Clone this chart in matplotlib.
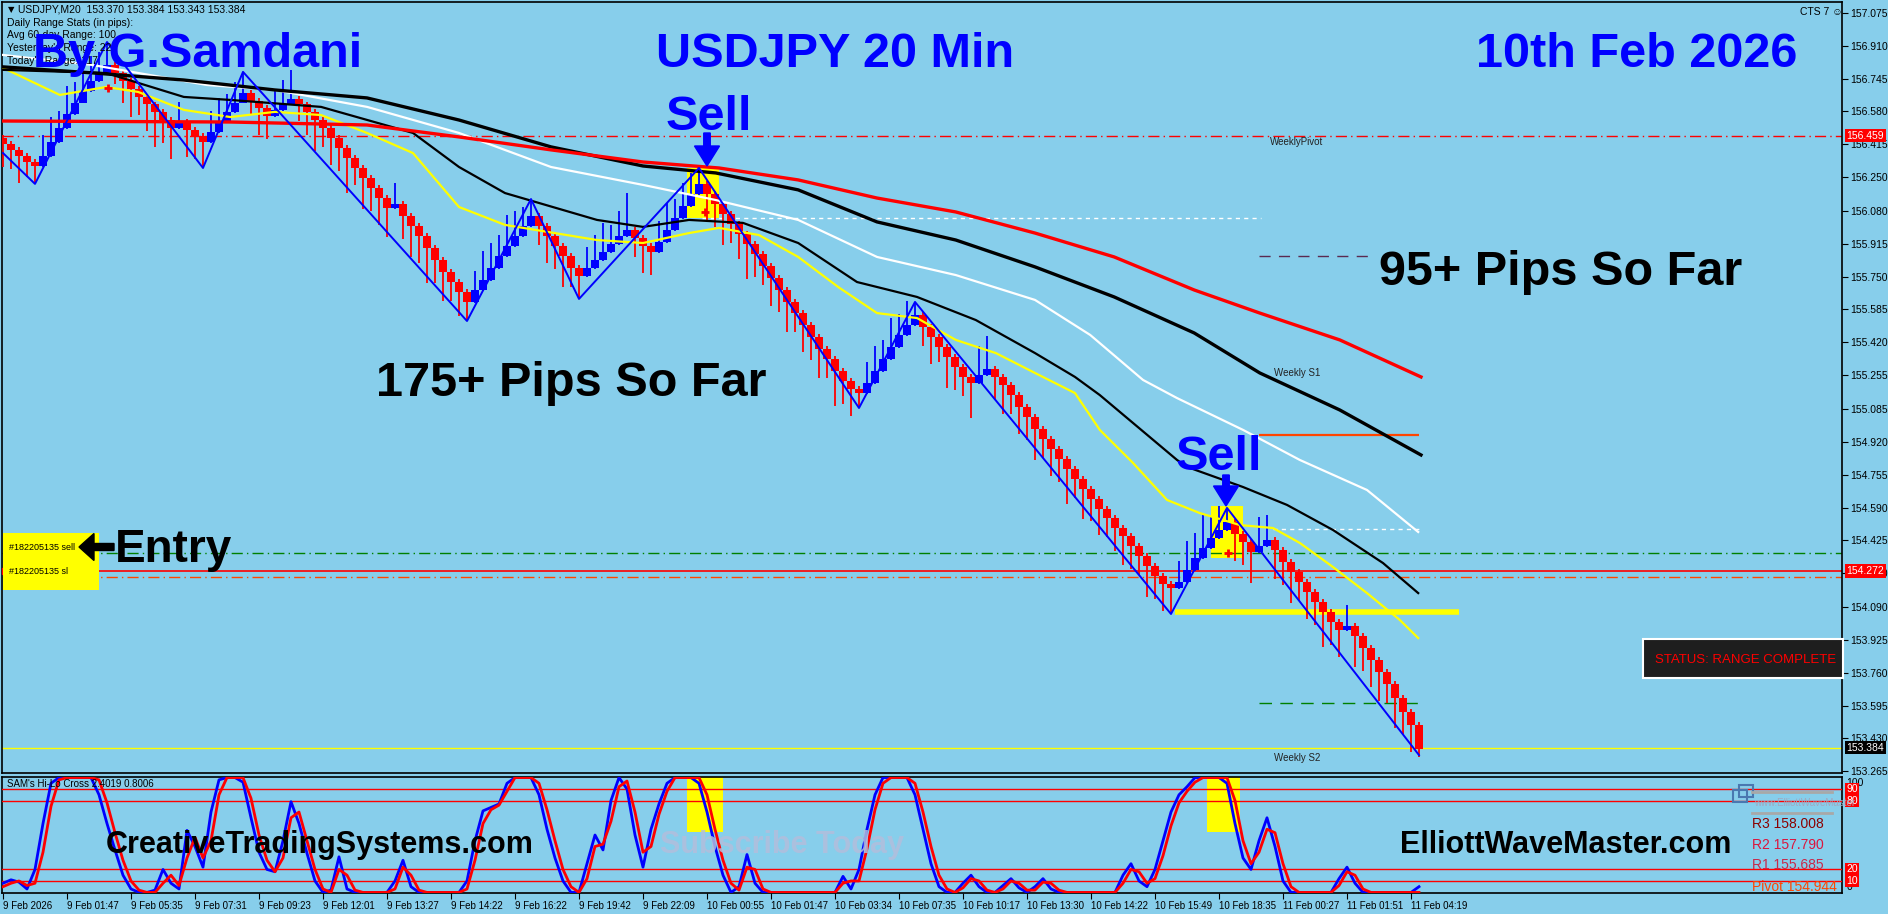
import matplotlib
matplotlib.use('Agg')
import matplotlib.pyplot as plt
from matplotlib.patches import Rectangle, FancyArrow
import numpy as np

plt.rcParams.update({
    'font.family': ['Liberation Sans', 'DejaVu Sans'],
    'font.size': 7.5,
})

SKY = '#87ceeb'
BLUE = '#0000ff'
RED = '#ff0000'
W, H = 1888, 914

# ---------------- data ----------------
time_labels = ['9 Feb 2026', '9 Feb 01:47', '9 Feb 05:35', '9 Feb 07:31', '9 Feb 09:23',
               '9 Feb 12:01', '9 Feb 13:27', '9 Feb 14:22', '9 Feb 16:22', '9 Feb 19:42',
               '9 Feb 22:09', '10 Feb 00:55', '10 Feb 01:47', '10 Feb 03:34', '10 Feb 07:35',
               '10 Feb 10:17', '10 Feb 13:30', '10 Feb 14:22', '10 Feb 15:49', '10 Feb 18:35',
               '11 Feb 00:27', '11 Feb 01:51', '11 Feb 04:19']
label_bars = [0, 8, 16, 24, 32, 40, 48, 56, 64, 72, 80, 88, 96, 104, 112, 120, 128, 136,
              144, 152, 160, 168, 176]

first_open = 156.45
closes = [
    156.42, 156.39, 156.36, 156.33, 156.31,
    156.36, 156.43, 156.50, 156.57, 156.63, 156.69, 156.74, 156.78, 156.82,
    156.78, 156.74, 156.70, 156.66, 156.62, 156.58, 156.54, 156.50, 156.53, 156.49, 156.46, 156.43,
    156.48, 156.53, 156.58, 156.63, 156.68,
    156.64, 156.60, 156.56, 156.59, 156.62, 156.65, 156.62, 156.58, 156.54, 156.50, 156.45, 156.40,
    156.35, 156.30, 156.25, 156.20, 156.15, 156.10, 156.12, 156.06, 156.01, 155.96, 155.90, 155.84,
    155.78, 155.73, 155.68, 155.63,
    155.69, 155.74, 155.80, 155.86, 155.91, 155.96, 156.01, 156.06,
    156.01, 155.96, 155.91, 155.86, 155.80, 155.76,
    155.80, 155.84, 155.88, 155.92, 155.96, 155.99, 155.95, 155.91, 155.88, 155.93, 155.99, 156.05,
    156.11, 156.17, 156.22,
    156.17, 156.12, 156.07, 156.02, 155.97, 155.92, 155.87, 155.81, 155.75, 155.69, 155.63, 155.57,
    155.51, 155.45, 155.39, 155.34, 155.28, 155.23, 155.19, 155.17,
    155.22, 155.28, 155.34, 155.40, 155.46, 155.51, 155.56,
    155.50, 155.45, 155.40, 155.35, 155.30, 155.25, 155.22, 155.26, 155.29, 155.25, 155.21, 155.16,
    155.10, 155.05, 154.99, 154.94, 154.89, 154.84, 154.79, 154.74, 154.69, 154.64, 154.59, 154.54,
    154.49, 154.45, 154.40, 154.35, 154.30, 154.25, 154.21, 154.19,
    154.22, 154.28, 154.34, 154.39, 154.44, 154.48, 154.52,
    154.46, 154.42, 154.37, 154.40, 154.43, 154.38, 154.32, 154.27, 154.22, 154.17, 154.12, 154.07,
    154.02, 153.98, 154.00, 153.95, 153.89, 153.83, 153.77, 153.71, 153.64, 153.57, 153.50, 153.384,
]
# wick length of each candle, in pips
wick_pips = [
    12, 10, 14, 8, 9, 10, 12, 8, 14, 10,
    9, 12, 10, 11, 6, 12, 15, 10, 14, 18,
    12, 16, 10, 14, 12, 13, 10, 12, 9, 10,
    10, 8, 14, 12, 10, 12, 14, 9, 12, 16,
    10, 14, 12, 18, 9, 16, 12, 14, 15, 10,
    12, 16, 14, 18, 12, 15, 10, 13, 10, 9,
    14, 12, 10, 15, 12, 9, 8, 10, 14, 12,
    16, 10, 12, 10, 12, 14, 9, 12, 18, 10,
    14, 12, 10, 13, 9, 11, 10, 8, 14, 12,
    16, 10, 13, 18, 12, 10, 15, 12, 16, 10,
    14, 12, 15, 10, 18, 12, 14, 8, 10, 12,
    9, 14, 10, 12, 6, 10, 14, 8, 16, 12,
    10, 18, 14, 16, 12, 15, 10, 14, 12, 16,
    10, 14, 12, 18, 10, 16, 12, 14, 10, 12,
    15, 12, 10, 16, 12, 14, 13, 10, 14, 12,
    16, 10, 12, 7, 14, 12, 16, 14, 12, 15,
    12, 16, 10, 14, 12, 18, 12, 14, 10, 16,
    12, 14, 15, 10, 16, 12, 14, 5,
]

zz_bars = [0, 4, 13, 25, 30, 58, 66, 72, 87, 107, 114, 146, 153, 177]
zz_price = [156.371, 156.216, 156.929, 156.296, 156.779, 155.527, 156.140, 155.638,
            156.296, 155.090, 155.623, 154.055, 154.588, 153.346]

red_ma_bars = [0, 28.4, 45.5, 57, 68.5, 80, 89.5, 99.4, 109.25, 119.1, 129, 138.9, 148.9,
               157.1, 167.1, 177.25]
red_ma = [156.532, 156.527, 156.512, 156.452, 156.387, 156.326, 156.296, 156.236, 156.145,
          156.075, 155.969, 155.849, 155.683, 155.567, 155.432, 155.246]

black_ma_bars = [0, 11.1, 22.6, 34, 45.5, 57, 68.5, 80, 89.1, 99.4, 109.25, 119.1, 129,
                 138.9, 148.9, 157.1, 167.1, 177.25]
black_ma = [156.804, 156.774, 156.738, 156.688, 156.648, 156.537, 156.402, 156.306, 156.271,
            156.186, 156.025, 155.934, 155.799, 155.648, 155.467, 155.266, 155.080, 154.854]

white_ma_bars = [0, 11.1, 25.5, 34, 45.5, 57, 68.5, 80, 89.1, 99.4, 109.25, 119.1, 129,
                 135.9, 142.5, 146.75, 155, 162.1, 170.5, 176.9]
white_ma = [156.864, 156.814, 156.713, 156.688, 156.603, 156.472, 156.301, 156.211, 156.135,
            156.035, 155.849, 155.758, 155.633, 155.457, 155.231, 155.140, 154.980, 154.829,
            154.678, 154.467]

thin_ma_bars = [0, 12.9, 22.6, 28.4, 39.75, 51.25, 57, 62.75, 74.25, 80, 85.75, 92.5, 99.4,
                106.75, 114.25, 121.6, 129, 134, 137.1, 146.75, 148, 155, 160.5, 166.25,
                172.5, 176.9]
thin_ma = [156.789, 156.773, 156.653, 156.638, 156.603, 156.472, 156.301, 156.170, 156.035,
           156.000, 156.035, 156.020, 155.919, 155.723, 155.648, 155.532, 155.366, 155.246,
           155.155, 154.829, 154.794, 154.693, 154.603, 154.477, 154.311, 154.160]

yellow_ma_bars = [0, 7.1, 12.9, 16.9, 22.6, 28.4, 34, 39.75, 45.5, 51.25, 57, 62.75, 74.25,
                  80, 85.75, 89.5, 94.5, 99.4, 104.4, 109.25, 114.25, 119.1, 124.1, 129, 134,
                  137.1, 141.25, 145.5, 149.6, 154.6, 158.75, 162.1, 166.25, 170.5, 174.6,
                  176.9]
yellow_ma = [156.799, 156.663, 156.703, 156.678, 156.588, 156.552, 156.578, 156.562, 156.472,
             156.371, 156.100, 156.010, 155.934, 155.919, 155.969, 155.995, 155.959, 155.849,
             155.698, 155.567, 155.542, 155.432, 155.366, 155.266, 155.165, 154.980, 154.814,
             154.628, 154.562, 154.502, 154.487, 154.412, 154.291, 154.160, 154.025, 153.934]

price_ticks = [157.075, 156.910, 156.745, 156.580, 156.415, 156.250, 156.080, 155.915,
               155.750, 155.585, 155.420, 155.255, 155.085, 154.920, 154.755, 154.590,
               154.425, 154.260, 154.090, 153.925, 153.760, 153.595, 153.430, 153.265]

weekly_pivot = 156.459
order_price = 154.361
sl_price = 154.241
current_level = 154.272
last_price = 153.384

osc_blue = [
    8, 11, 9, 3, 20, 60, 95, 100, 100, 100,
    100, 100, 85, 60, 37, 15, 3, 0, 0, 2,
    20, 8, 3, 54, 40, 22, 70, 98, 100, 100,
    96, 65, 35, 20, 18, 45, 79, 60, 34, 10,
    0, 2, 31, 3, 0, 0, 0, 0, 0, 10,
    28, 5, 0, 0, 0, 0, 0, 0, 10, 45,
    71, 74, 77, 95, 100, 100, 100, 85, 55, 30,
    10, 0, 0, 25, 50, 37, 80, 100, 90, 50,
    22, 55, 77, 95, 100, 100, 100, 95, 70, 40,
    15, 0, 5, 33, 8, 0, 0, 0, 0, 0,
    0, 0, 0, 0, 0, 14, 3, 20, 55, 85,
    100, 100, 100, 100, 85, 55, 25, 5, 0, 0,
    8, 15, 5, 0, 0, 6, 12, 4, 0, 5,
    12, 3, 0, 0, 0, 0, 0, 0, 0, 0,
    15, 25, 10, 5, 20, 45, 70, 85, 92, 100,
    100, 100, 100, 95, 60, 30, 20, 45, 65, 40,
    10, 0, 0, 0, 0, 0, 0, 12, 22, 8,
    0, 0, 0, 0, 0, 0, 0, 5,
]
osc_red = [
    5, 8, 10, 6, 8, 35, 75, 98, 100, 100,
    100, 100, 98, 78, 52, 28, 10, 2, 0, 0,
    8, 15, 6, 30, 48, 30, 45, 85, 100, 100,
    100, 82, 50, 28, 18, 30, 65, 70, 45, 20,
    3, 0, 20, 15, 2, 0, 0, 0, 0, 3,
    22, 15, 2, 0, 0, 0, 0, 0, 3, 28,
    60, 72, 76, 88, 100, 100, 100, 95, 72, 45,
    20, 5, 0, 12, 40, 42, 62, 92, 97, 70,
    35, 40, 68, 88, 100, 100, 100, 100, 85, 55,
    28, 8, 2, 22, 20, 3, 0, 0, 0, 0,
    0, 0, 0, 0, 0, 8, 10, 10, 38, 72,
    95, 100, 100, 100, 95, 70, 40, 15, 3, 0,
    4, 12, 10, 2, 0, 3, 10, 8, 2, 2,
    9, 8, 2, 0, 0, 0, 0, 0, 0, 0,
    8, 20, 18, 8, 12, 32, 58, 78, 88, 96,
    100, 100, 100, 100, 80, 45, 25, 35, 55, 52,
    25, 5, 0, 0, 0, 0, 0, 6, 18, 15,
    3, 0, 0, 0, 0, 0, 0, 0,
]
osc_levels = [90, 80, 20, 10]

pivot_texts = ['R3 158.008', 'R2 157.790', 'R1 155.685', 'Pivot 154.944']


def fx(px):
    return px / W


def fy(py):
    return 1 - py / H


fig = plt.figure(figsize=(W / 100, H / 100), dpi=100, facecolor=SKY)
ax = fig.add_axes([fx(2), fy(773), fx(1842) - fx(2), fy(2) - fy(773)])
ax2 = fig.add_axes([fx(2), fy(893), fx(1842) - fx(2), fy(777) - fy(893)])

for a in (ax, ax2):
    a.set_facecolor(SKY)
    a.set_xlim(-0.125, 229.875)
    for s in a.spines.values():
        s.set_color('black')
        s.set_linewidth(1.2)

ax.set_ylim(153.256, 157.130)
ax2.set_ylim(-0.5, 100.5)

# ---------------- candles ----------------
c = np.array(closes)
o = np.array([first_open] + closes[:-1])
bars = np.arange(len(c))
up = c > o
wk = np.array(wick_pips) / 100
body_lo = np.minimum(o, c)
body_hi = np.maximum(o, c)
hi = np.where(up, body_hi + wk, body_hi + 0.01)
lo = np.where(up, body_lo - 0.01, body_lo - wk)
colors = np.where(up, BLUE, RED)
ax.vlines(bars, lo, hi, colors=colors, lw=1.3, zorder=3)
ax.bar(bars, np.maximum(body_hi - body_lo, 0.02), bottom=body_lo - 0.005, width=0.92,
       color=colors, zorder=3)

# highlight boxes at the sell signals
ax.add_patch(Rectangle((85.5, 156.045), 4, 0.251, fc='yellow', ec='none', zorder=2))
ax.add_patch(Rectangle((151, 154.336), 4, 0.262, fc='yellow', ec='none', zorder=2))

# moving averages
ax.plot(yellow_ma_bars, yellow_ma, color='yellow', lw=1.6, zorder=4)
ax.plot(thin_ma_bars, thin_ma, color='black', lw=1.6, zorder=4)
ax.plot(white_ma_bars, white_ma, color='white', lw=1.6, zorder=4)
ax.plot(black_ma_bars, black_ma, color='black', lw=2.4, zorder=4)
ax.plot(red_ma_bars, red_ma, color='red', lw=2.4, zorder=4)

# zigzag
ax.plot(zz_bars, zz_price, color=BLUE, lw=1.4, zorder=5)

# horizontal levels
ax.axhline(weekly_pivot, color='red', lw=1, ls=(0, (8, 3, 1, 3)), zorder=2)
ax.axhline(order_price, color='#008000', lw=1, ls=(0, (8, 3, 1, 3)), zorder=2)
ax.axhline(current_level, color='red', lw=1.2, zorder=2)
ax.axhline(sl_price, color='#ff4500', lw=1, ls=(0, (8, 3, 1, 3)), zorder=2)
ax.axhline(last_price, color='yellow', lw=1, zorder=2)
ax.hlines(156.045, 87.4, 157.2, color='white', lw=1, ls=(0, (3, 3)), zorder=2)
ax.hlines(154.482, 158.75, 177, color='white', lw=1, ls=(0, (3, 3)), zorder=2)
ax.hlines(155.854, 157, 171, color='#5a2a50', lw=1, ls=(0, (8, 6)), zorder=2)
ax.hlines(154.955, 157, 177, color='#ff4500', lw=1.6, zorder=2)
ax.hlines(154.065, 146.5, 182, color='yellow', lw=4, zorder=2)
ax.hlines(153.608, 157, 177, color='#008000', lw=1, ls=(0, (9, 6)), zorder=2)

ax.plot([13.1, 87.75, 153.1], [156.698, 156.075, 154.362], ls='none', marker='+',
        color='red', ms=6, mew=2, zorder=6)

ax.text(158.4, 156.45, 'WeeklyPivot', fontsize=7, va='top', color='#222222')
ax.text(158.9, 155.266, 'Weekly S1', fontsize=7, va='center', color='#222222')
ax.text(158.9, 153.331, 'Weekly S2', fontsize=7, va='center', color='#222222')

# price axis
ax.yaxis.tick_right()
ax.set_yticks(price_ticks)
ax.set_yticklabels([f'{v:.3f}' for v in price_ticks])
ax.tick_params(axis='y', direction='out', length=4, pad=2, labelsize=7.5, colors='black')
ax.set_xticks([])

ytr = ax.get_yaxis_transform()
for val, bg in [(weekly_pivot, 'red'), (current_level, 'red'), (last_price, 'black')]:
    ax.text(1.0025, val, f'{val:.3f}', transform=ytr, ha='left', va='center', fontsize=7.5,
            color='white', zorder=10, clip_on=False,
            bbox=dict(boxstyle='square,pad=0.18', fc=bg, ec='none'))

# ---------------- oscillator panel ----------------
ax2.plot(bars, osc_blue, color=BLUE, lw=2, zorder=4)
ax2.plot(bars, osc_red, color='red', lw=2, zorder=5)
for lv in osc_levels:
    ax2.axhline(lv, color='red', lw=1, zorder=3)
ax2.add_patch(Rectangle((85.5, 53), 4.5, 47.5, fc='yellow', ec='none', zorder=2))
ax2.add_patch(Rectangle((150.5, 53), 4.1, 47.5, fc='yellow', ec='none', zorder=2))

ax2.set_yticks([])
ax2.set_xticks(label_bars)
ax2.set_xticklabels(time_labels)
for lab in ax2.get_xticklabels():
    lab.set_ha('left')
ax2.tick_params(axis='x', direction='out', length=4, pad=2, labelsize=7)

ytr2 = ax2.get_yaxis_transform()
ax2.text(1.0025, 95, '100', transform=ytr2, ha='left', va='center', fontsize=7.5,
         clip_on=False)
ax2.text(1.0025, 5, '0', transform=ytr2, ha='left', va='center', fontsize=7.5,
         clip_on=False)
for lv in osc_levels:
    ax2.text(1.0025, lv, str(lv), transform=ytr2, ha='left', va='center', fontsize=7.5,
             color='white', clip_on=False, zorder=10,
             bbox=dict(boxstyle='square,pad=0.12', fc='red', ec='none'))

fig.text(fx(7), fy(784), "SAM's Hi-Lo Cross 2.4019 0.8006", fontsize=7, va='center')

# pivot overlay at bottom right of the oscillator
fig.add_artist(plt.Line2D([fx(1752), fx(1832)], [fy(792), fy(792)], color='#a8a8a8', lw=2))
fig.add_artist(plt.Line2D([fx(1752), fx(1832)], [fy(813), fy(813)], color='#a8a8a8', lw=2))
fig.add_artist(Rectangle((fx(1733), fy(802)), 14 / W, 12 / H, fill=False, ec='#4a78b0', lw=1.5))
fig.add_artist(Rectangle((fx(1739), fy(797)), 14 / W, 12 / H, fill=False, ec='#4a78b0', lw=1.5))
fig.text(fx(1754), fy(803), 'www.ElliottWaveMaster', fontsize=7, color='#a0a8c0', va='center')
for txt, yy, col in zip(pivot_texts, [824, 845, 865, 887],
                        ['#8b0000', '#dc143c', '#c8284a', '#ff4500']):
    fig.text(fx(1752), fy(yy), txt, fontsize=10, color=col, va='center')

# ---------------- text annotations ----------------
fig.text(fx(8), fy(10), '\u25bc', fontsize=6, va='center', family='DejaVu Sans')
fig.text(fx(18), fy(10), 'USDJPY,M20  153.370 153.384 153.343 153.384', fontsize=7.5, va='center')
info_lines = ['Daily Range Stats (in pips):', 'Avg 60-day Range: 100',
              "Yesterday's Range: 224", "Today's Range: 117"]
for k, line in enumerate(info_lines):
    fig.text(fx(7), fy(23 + 12.5 * k), line, fontsize=7.5, va='center')

fig.text(fx(1800), fy(12), 'CTS 7 \u263a', fontsize=7.5, va='center')

big = dict(fontsize=35, fontweight='bold', va='baseline')
fig.text(fx(33), fy(67), 'By G.Samdani', color=BLUE, **big)
fig.text(fx(656), fy(67), 'USDJPY 20 Min', color=BLUE, **big)
fig.text(fx(1476), fy(67), '10th Feb 2026', color=BLUE, **big)
fig.text(fx(666), fy(130), 'Sell', color=BLUE, **big)
fig.text(fx(1176), fy(470), 'Sell', color=BLUE, **big)
fig.text(fx(376), fy(396), '175+ Pips So Far', color='black', **big)
fig.text(fx(1379), fy(285), '95+ Pips So Far', color='black', **big)


def down_arrow(xpx, top, bottom, color):
    # arrow drawn in inches so shaft and head keep their pixel sizes
    fig.add_artist(FancyArrow(xpx / 100, (H - top) / 100, 0, -(bottom - top) / 100,
                              width=0.065, head_width=0.25, head_length=0.2,
                              length_includes_head=True, color=color,
                              transform=fig.dpi_scale_trans, zorder=7))


down_arrow(707, 133, 166, BLUE)
down_arrow(1226, 475, 506, BLUE)

# entry marker on the left
fig.add_artist(Rectangle((fx(3), fy(590)), 96 / W, 57 / H, fc='yellow', ec='none', zorder=1))
fig.text(fx(9), fy(548), '#182205135 sell', fontsize=6.5, va='center', zorder=6)
fig.text(fx(9), fy(571), '#182205135 sl', fontsize=6.5, va='center', zorder=6)
ax.plot([0.3], [current_level], marker='s', ms=4, mfc='white', mec='red', mew=1, zorder=7,
        clip_on=False)
fig.text(fx(115), fy(562), 'Entry', color='black', fontsize=33, fontweight='bold',
         va='baseline')
fig.add_artist(FancyArrow(1.14, (H - 547) / 100, -0.35, 0, width=0.07, head_width=0.27,
                          head_length=0.15, length_includes_head=True, color='black',
                          transform=fig.dpi_scale_trans, zorder=7))

# status box
fig.add_artist(Rectangle((fx(1643), fy(678)), 200 / W, 39 / H, fc='#1e1e1e', ec='white',
                         lw=1.5, zorder=8))
fig.text(fx(1746), fy(660), 'STATUS: RANGE COMPLETE', color='red', fontsize=9.5,
         ha='center', va='center', zorder=9)

# bottom watermark texts
mark = dict(fontsize=22, fontweight='bold', va='baseline', zorder=8)
fig.text(fx(106), fy(853), 'CreativeTradingSystems.com', color='black', **mark)
fig.text(fx(660), fy(853), 'Subscribe Today', color='#b2bedc', alpha=0.85, **mark)
fig.text(fx(1400), fy(853), 'ElliottWaveMaster.com', color='black', **mark)

fig.savefig('out.png', dpi=100, facecolor=SKY)
